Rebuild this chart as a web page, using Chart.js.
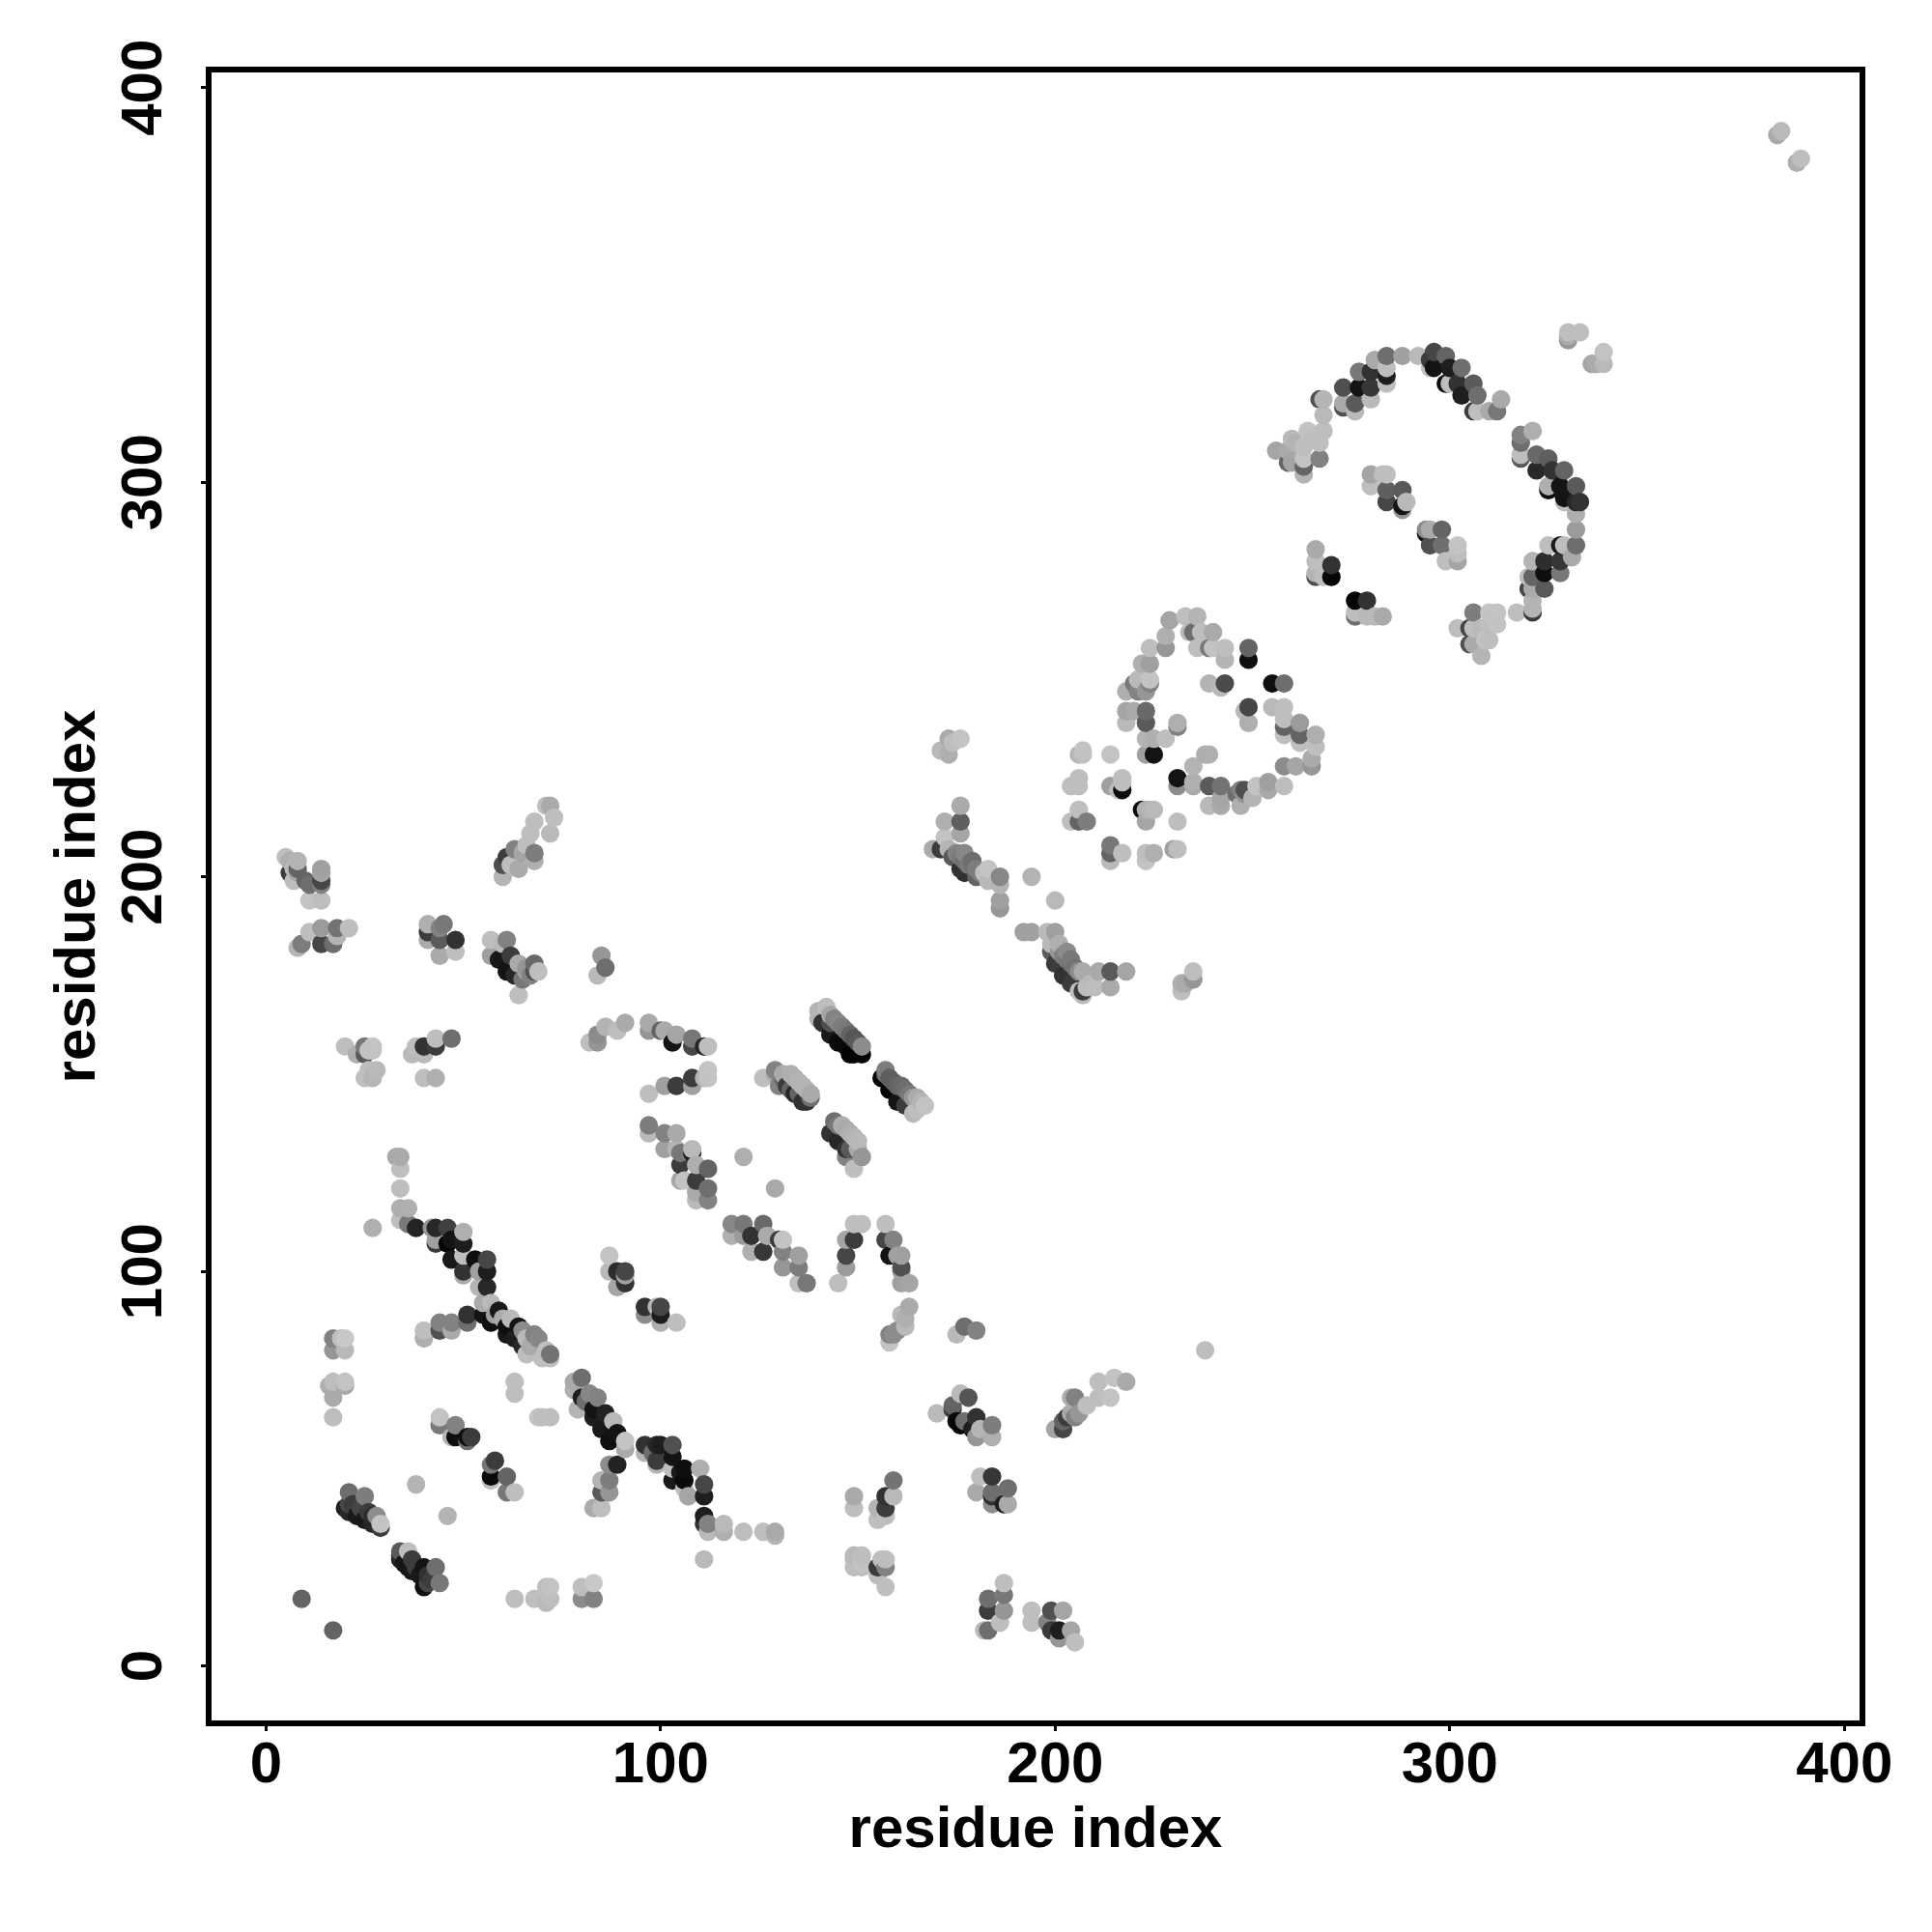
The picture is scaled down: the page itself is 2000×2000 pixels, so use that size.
<!DOCTYPE html>
<html><head><meta charset="utf-8">
<script src="https://cdn.jsdelivr.net/npm/chart.js@4"></script>
<style>html,body{margin:0;padding:0;background:#fff}canvas{display:block}</style>
</head><body><canvas id="c" width="2000" height="2000"></canvas>
<script>
const axisTitle = "residue index";
const tickValues = [0,100,200,300,400];
// each contact: [residue i, residue j, grey level]
const lowerLeft = [[9,17,100],[17,9,100],[38,46,180],[46,38,180],
[21,44,110],[25,43,125],[20,40,30],[21,41,70],[21,39,40],[22,41,60],[23,38,25],[24,40,70],[25,37,25],[26,39,60],[27,36,40],[27,38,45],[28,38,140],[28,36,40],[29,35,60],[29,36,195],
[34,29,90],[34,28,40],[34,27,30],[36,29,190],[35,26,25],[36,25,20],[37,27,60],[37,24,25],[38,25,60],[39,23,25],[40,25,20],[40,20,15],[41,23,50],[41,21,70],[42,22,60],[43,25,110],[44,21,120]];
const bottomRow = [[63,17,190],[68,17,190],[71,16,185],[71,20,190],[72,20,195],[72,17,190],[80,20,190],[83,21,200],[80,17,140],[83,17,130]];
const leftColumn = [[17,83,130],[19,83,190],[20,83,200],[17,80,150],[20,80,185],[16,71,175],[17,72,190],[20,72,195],[17,68,170],[20,71,170],[17,63,190]];
const branchA = [[40,85,190],[40,83,175],[44,87,130],[44,85,80],[47,85,170],[47,87,130],[51,89,50],[51,87,110]];
const helixA = [[34,116,175],[36,116,175],[34,113,190],[36,112,120],[38,111,35],[27,111,175],[42,111,150],[43,111,40],[46,111,65],[50,110,175],[43,107,60],[43,108,160],[46,107,5],[47,108,20],[50,107,30],[47,103,25],[50,104,190],[53,103,15],[56,103,70],[50,100,50],[50,99,170],[56,100,30],[54,100,160],[56,96,40],[54,96,180],[55,92,170],[57,92,185],[55,89,20],[59,90,25],[57,87,15],[58,89,160],[60,88,170],[62,88,185],[61,86,15],[64,86,20],[61,84,25],[63,83,30],[65,85,140],[66,83,185],[68,84,130],[69,83,135],[72,79,115],[65,81,40],[66,79,190],[67,81,170],[70,78,190],[72,78,190],[71,80,190]];
const helixB = [[80,73,110],[78,72,170],[78,70,175],[82,69,135],[84,68,130],[79,65,180],[81,67,110],[80,68,30],[83,65,20],[86,64,35],[83,63,30],[88,62,185],[89,59,20],[85,60,25],[87,57,15],[88,60,20],[91,57,195],[91,55,170],
[96,56,50],[99,56,40],[100,56,30],[103,56,80],[96,54,180],[98,54,110],[99,51,180],[99,52,60],[103,53,20],[103,50,190],[106,50,15],[110,50,175],[103,47,25],[106,47,10],[105,49,25],[111,46,70],[111,43,30],[107,43,165],[106,45,190],[111,38,30],[111,36,50],[112,36,130],[112,34,185],[116,36,185],[116,34,175],[111,27,185]];
const smallGroups = [[89,51,35],[87,51,140],[87,47,125],[85,47,180],[85,44,90],[87,44,150],[83,40,170],[85,40,190],
[44,63,195],[44,61,120],[48,61,130],[48,58,15],[47,58,180],[51,58,15],[52,58,60],[51,57,110],
[58,52,60],[57,51,120],[57,48,10],[61,48,100],[57,47,190],[61,44,120],[63,44,190],
[63,72,190],[63,69,190],[69,63,195],[70,63,190],[72,63,190],
[87,104,195],[87,100,185],[89,100,45],[91,100,70],[91,97,50],[89,96,165],[91,99,160],
[96,89,140],[96,91,50],[99,91,180],[100,91,70],[100,89,30],[100,87,175],[104,87,190],[33,129,170],[34,129,170],[34,126,190],[34,121,190]];
const upperLeft = [[5,205,190],[6,204,175],[8,204,180],[6,201,60],[7,199,190],[7,202,185],[8,202,100],[8,201,165],[10,199,100],[11,198,110],[14,202,160],[14,201,165],[14,199,70],[14,198,130],[11,194,195],[14,194,190],
[21,187,190],[18,187,115],[14,187,155],[11,186,190],[9,183,125],[8,182,180],[14,183,70],[17,183,110],[18,185,180],
[41,188,175],[41,186,60],[41,184,170],[45,188,120],[44,187,130],[44,184,90],[48,184,50],[44,180,170],[48,181,190],
[57,184,190],[61,184,130],[57,180,160],[60,183,185],[62,180,60],[59,179,25],[61,176,20],[64,178,170],[63,175,40],[68,178,105],[66,176,160],[66,177,150],[67,175,130],[65,174,120],[68,176,80],[69,176,190],[64,170,190],
[60,203,80],[60,200,180],[61,205,60],[62,203,190],[63,207,130],[64,202,170],[65,206,165],[66,208,190],[68,206,125],[68,204,175],[67,211,190],[68,214,190],[72,211,185],[71,218,190],[72,218,170],[73,215,190],
[20,157,190],[25,157,120],[23,155,175],[25,155,90],[26,156,195],[27,156,195],[27,157,195],[26,151,190],[28,151,185],[25,149,190],[27,149,180],[26,150,190],
[37,155,185],[38,157,190],[40,155,185],[40,157,50],[43,157,60],[43,159,190],[47,159,110],[40,149,190],[43,149,175],
[82,158,190],[84,158,150],[84,160,140],[86,162,180],[89,161,190],[91,163,170],[85,180,150],[86,177,110],[84,175,185]];
const centerArcs = [[97,163,170],[97,161,150],[100,161,100],[101,161,170],[104,160,165],[103,158,20],[108,159,120],[108,157,70],[111,157,40],[112,157,190],
[97,145,190],[101,147,160],[104,147,60],[108,149,60],[108,147,160],[111,149,180],[112,151,195],[112,149,195],
[97,137,125],[97,135,185],[101,135,130],[104,135,170],[101,131,160],[104,131,180],[105,130,120],[108,131,185],[108,130,30],[105,127,60],[109,127,175],[112,126,100],[105,123,165],[106,123,195],[109,123,60],[112,121,110],[109,120,170],[109,118,185],[112,118,130],
[121,129,175],[129,121,170]];
const middleBands = [[142,167,190],[140,166,180],[140,164,180],[141,163,50],[143,165,165],[144,164,130],[143,163,80],[145,163,135],[146,162,125],[143,160,25],[145,158,10],[147,161,120],[148,160,100],[147,157,10],[148,155,5],[149,159,85],[150,158,90],[149,155,5],[151,155,5],[151,157,140],
[157,151,125],[157,150,110],[156,149,5],[158,149,95],[159,148,95],[158,146,5],[160,147,100],[161,147,105],[162,146,110],[160,143,20],[163,145,120],[164,144,150],[165,144,170],[166,143,180],[165,141,190],[162,142,60],[164,140,185],[167,142,195],
[126,149,190],[129,151,130],[129,150,170],[130,147,130],[131,149,100],[131,150,170],[133,150,175],[134,149,175],[132,147,60],[135,148,180],[133,146,100],[135,145,100],[136,147,180],[134,145,40],[137,146,180],[138,145,170],[136,143,50],[138,144,110],[137,143,50],
[144,138,110],[143,135,50],[145,137,120],[146,137,175],[147,136,170],[145,133,40],[148,135,175],[149,134,180],[147,131,50],[148,131,90],[150,133,185],[150,131,170],[147,129,130],[151,129,150],[149,126,190]];
const band100 = [[118,112,135],[118,109,175],[121,112,120],[121,109,155],[126,112,105],[123,109,50],[123,105,175],[126,105,55],[127,109,170],[130,108,60],[131,108,195],[131,105,130],[135,104,160],[131,101,150],[135,101,125],[135,97,190],[137,97,120],
[145,97,190],[147,101,155],[147,104,70],[147,108,165],[149,108,60],[149,112,190],[151,112,190],
[157,112,190],[157,108,70],[159,108,130],[158,104,20],[160,104,160],[161,104,160],[161,100,160],[161,101,80],[161,97,160],[163,97,165],
[163,91,170],[161,89,185],[162,88,175],[162,86,185],[160,85,140],[158,84,130],[159,84,140],[158,82,195],
[175,84,185],[177,86,110],[180,85,130]];
const lowerRight = [[170,64,185],[176,69,185],[178,68,85],[174,66,100],[174,65,60],[175,62,10],[176,61,5],[180,63,50],[177,62,110],[180,58,150],[181,60,180],[184,61,125],[184,58,175],[179,60,30],
[200,60,165],[202,60,70],[202,62,100],[203,63,60],[204,64,170],[204,68,175],[205,68,130],[208,66,190],[211,72,190],[211,68,190],[214,68,195],[215,73,195],[218,72,170],[205,63,130],[206,64,150],[238,80,190],
[159,47,115],[157,43,50],[159,43,185],[157,40,60],[155,40,180],[155,37,190],[157,38,190],[149,43,170],[149,40,190],
[121,34,190],[126,34,190],[129,34,170],[129,33,180],
[149,28,185],[151,28,190],[149,25,190],[151,25,190],[149,27,190],[151,26,195],[155,25,60],[157,25,130],[156,27,190],[157,27,190],[155,23,190],[157,20,190],
[187,21,190],[187,18,120],[183,17,110],[183,14,60],[187,14,150],[186,11,190],[182,9,185],[183,9,110],
[194,14,190],[194,11,190],[199,14,80],[202,14,165],[198,11,130],[199,9,60],[201,9,30],[204,9,165],[201,7,150],[205,6,190],
[181,48,190],[184,48,55],[180,44,170],[184,44,110],[184,43,50],[188,45,110],[184,41,140],[187,41,30],[188,41,170]];
const band200 = [[173,235,170],[176,235,195],[171,232,185],[174,234,190],[173,231,175],
[176,218,170],[172,214,175],[176,214,95],[176,211,165],[172,210,195],[169,207,170],[171,207,60],[173,207,180],[174,205,90],[175,206,130],[176,205,120],[177,206,135],[177,204,110],[178,203,120],[179,204,110],[179,203,115],[176,202,50],[177,201,50],[180,202,125],[181,201,125],[180,200,100],[182,201,190],[183,202,195],[183,199,185],[186,200,135],[186,198,180],[186,194,160],[186,192,150],[194,200,180],[200,194,185],
[192,186,160],[194,186,160],[198,186,185],[200,186,160],[199,183,185],[201,183,175],[199,181,90],[201,181,150],[202,180,130],[203,181,140],[203,179,120],[204,179,120],[204,178,110],[200,178,60],[202,175,50],[205,177,115],[206,176,140],[204,173,60],[207,176,170],[211,176,170],[214,176,90],[218,176,165],[210,172,190],[214,172,170],[207,170,185],[206,171,190],[207,171,60],[208,172,190],[209,173,185],
[232,173,175],[233,173,170],[232,171,190],[235,174,150],[235,176,190]];
const heartLower = [[214,208,120],[214,206,100],[214,204,185],[217,206,190],[223,206,190],[223,204,195],[225,206,175],[230,207,160],[231,207,190],[231,214,190],
[206,217,190],[204,214,190],[206,214,100],[208,214,125],[223,214,165],[222,217,10],[223,217,175],[224,217,180],[225,217,185],
[204,223,190],[206,225,190],[206,223,190],[214,223,160],[216,222,190],[217,222,15],[217,224,190],[217,225,190],
[206,231,180],[207,231,190],[207,232,195],[214,231,195],[223,231,160],[225,231,20],
[231,225,20],[231,223,140],[235,228,180],[235,224,175],[238,231,175],[239,231,175],[235,223,170]];
const heartRing = [[239,223,90],[242,223,115],[242,220,165],[239,218,185],[242,218,170],[247,218,175],[247,222,130],[246,221,110],[248,221,150],[250,220,180],[248,222,80],[251,223,195],[254,224,160],[254,222,170],[258,223,190],
[258,228,140],[261,228,165],[265,228,150],[265,230,170],[266,236,175],[266,233,190],[262,239,155],[262,234,190],[262,236,100],[258,236,190],[258,240,190],[258,238,100],[255,243,185],[258,243,190],
[249,243,70],[248,242,185],[249,239,175],[255,249,15],[258,249,110],[243,249,75],[239,249,180],[242,248,185],[249,258,100],[249,255,15],
[228,235,190],[223,235,180],[225,235,175],[231,239,175],[231,238,130],[223,242,105],[223,239,90],[218,242,165],[218,239,185],[220,242,170],
[218,247,175],[221,250,185],[221,247,130],[223,247,150],[224,249,130],[224,250,195],[220,249,120],[222,254,175],[224,254,160],
[224,258,190],[228,258,150],[228,261,175],[229,265,165],[233,266,190],[236,266,180],[234,262,185],[235,262,110],[237,262,190],[240,262,170],[236,258,190],[239,258,120],[240,258,195],[243,258,190],[243,255,180]];
const topArc = [[330,338,190],[330,337,170],[330,336,150],[333,338,190],[336,330,165],[337,330,170],[339,330,185],[339,333,195],[383,388,170],[384,389,185],[388,381,175],[389,382,190],
[256,308,165],[259,305,100],[260,305,165],[260,311,185],[259,308,170],[263,302,180],[263,304,100],[263,306,195],[267,306,130],[264,313,195],[268,313,190],[265,311,190],[267,310,190],[263,309,190],[261,310,180],
[268,317,185],[267,321,80],[268,321,180],[273,320,170],[273,319,80],[276,320,90],[276,318,185],[273,324,80],[277,324,20],[280,321,185],[280,324,55],[277,328,120],[280,328,50],[281,331,170],[284,332,110],[284,329,190],[284,327,30],[284,325,190],
[288,332,160],[292,332,185],[296,333,70],[295,331,60],[299,332,100],[296,329,20],[300,329,30],[303,329,110],[295,329,190],[299,325,10],[300,325,190],[302,325,50],[306,325,90],[303,322,30],[307,322,110],[306,318,60],[307,318,190],[310,318,170],[312,318,120],[313,321,170]];
const rightArc = [[321,313,175],[318,312,130],[318,310,110],[318,307,190],[318,306,90],[322,307,105],[325,306,95],[322,303,40],[326,303,50],[329,303,100],[325,298,10],[325,299,175],[328,299,20],[332,299,90],[329,295,190],[329,296,20],[333,295,50],[332,295,40],
[332,292,175],[332,288,155],[332,284,110],[325,284,190],[328,284,25],[329,284,190],[331,281,170],[321,280,180],[324,280,45],[328,280,55],[328,277,120],[324,277,15],[321,276,100],[320,276,190],[320,273,70],[324,273,90],[321,273,170],[321,267,60],[321,268,180],[321,270,180],
[317,267,190],[312,267,195],[310,267,195],[306,267,125],[302,263,190],[305,263,70],[306,263,190],[305,259,80],[306,259,170],[308,256,180],[309,260,195],[310,260,190],[308,263,185],[312,264,195],[310,264,190]];
const innerGroups = [[280,302,165],[280,299,190],[283,302,190],[284,302,190],[284,298,95],[284,295,70],[288,298,90],[288,294,20],[288,293,150],[289,295,185],
[295,288,170],[294,287,20],[294,288,140],[295,284,80],[298,288,100],[298,284,110],[302,284,195],[302,282,190],[299,280,190],[302,280,165],
[266,283,170],[266,280,190],[266,276,80],[266,277,180],[270,279,50],[270,276,5],[268,276,190],
[276,270,5],[279,270,50],[276,267,190],[276,266,110],[279,266,185],[283,266,170],[281,266,185]];

const contacts = [lowerLeft,bottomRow,leftColumn,branchA,helixA,helixB,smallGroups,upperLeft,centerArcs,middleBands,band100,lowerRight,band200,heartLower,heartRing,topArc,rightArc,innerGroups]
  .flat().sort((a,b)=>a[0]-b[0]||a[1]-b[1]);

const frame = {
  id:'frame',
  afterDatasetsDraw(chart){
    const {ctx,chartArea:a}=chart;
    ctx.save();ctx.strokeStyle='#000';ctx.lineWidth=6;ctx.lineJoin='miter';
    ctx.strokeRect(a.left,a.top,a.right-a.left,a.bottom-a.top);ctx.restore();
  }
};
const font = {family:'"Liberation Sans"',weight:'bold',size:60};
const titleFont = {family:'"Liberation Sans"',weight:'bold',size:60};
const common = {
  type:'linear',min:-14.56,max:404.6,
  grid:{drawOnChartArea:false,drawTicks:true,tickLength:8,tickWidth:3,tickColor:'#000'},
  border:{display:false},
  afterBuildTicks(s){s.ticks=tickValues.map(v=>({value:v}));}
};
new Chart(document.getElementById('c'),{
  type:'scatter',
  data:{datasets:[{
    data:contacts.map(c=>({x:c[0],y:c[1]})),
    pointRadius:9.6,pointHoverRadius:9.6,pointBorderWidth:0,
    pointBackgroundColor:contacts.map(c=>`rgb(${c[2]},${c[2]},${c[2]})`)
  }]},
  options:{
    responsive:false,animation:false,devicePixelRatio:1,
    layout:{padding:{left:0,top:72,right:72,bottom:0}},
    plugins:{legend:{display:false},tooltip:{enabled:false}},
    scales:{
      x:{...common,position:'bottom',
        afterFit(s){s.height=216;},
        ticks:{font,color:'#000',padding:0,maxRotation:0,minRotation:0,autoSkip:false},
        title:{display:true,text:axisTitle,font:titleFont,color:'#000',padding:{top:6,bottom:69}}},
      y:{...common,position:'left',
        afterFit(s){s.width=216;},
        ticks:{font,color:'#000',padding:7,minRotation:90,maxRotation:90,autoSkip:false,crossAlign:'center'},
        title:{display:true,text:axisTitle,font:titleFont,color:'#000',padding:{top:45,bottom:0}}}
    }
  },
  plugins:[frame]
});
</script></body></html>
